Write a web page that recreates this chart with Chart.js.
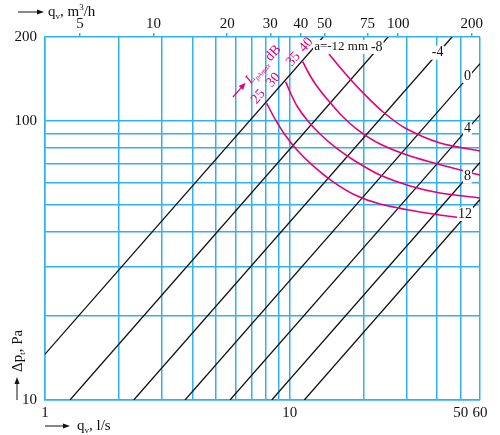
<!DOCTYPE html>
<html><head><meta charset="utf-8">
<script src="https://cdn.jsdelivr.net/npm/chart.js@4.4.1/dist/chart.umd.min.js"></script>
<style>html,body{margin:0;padding:0;background:#fff}canvas{display:block}</style>
</head><body>
<canvas id="c" width="500" height="435"></canvas>
<script>
// ---- axes / grid (q in l/s, Δp in Pa) ----
const xGridValues = [1,2,3,4,5,6,7,8,9,10,20,30,40,50,60];
const xTickLabels = [1,10,50,60];
const yGridValues = [10,20,30,40,50,60,70,80,90,100,200];
const yTickLabels = [10,100,200];
const topTickLabels = [5,10,20,30,40,50,75,100,200]; // m3/h
const M3H_PER_LS = 3.6;

// ---- black lines: damper setting a (mm) ----
const aValues = ['a=-12 mm','-8','-4','0','4','8','12'];
const lineStartQ = [1, 1.265, 2.305, 3.736, 5.705, 8.45, 11.48];
const lineStartP = [14.6, 10, 10, 10, 10, 10, 10];
const lineEndQ   = [13.7, 25.25, 46.1, 60, 60, 60, 60];
const lineEndP   = [200, 200, 200, 160.6, 105.2, 71.0, 52.3];
const aLabelQ = [16.23, 22.71, 40.24, 53.3, 53.3, 53.3, 52.1];
const aLabelP = [184.1, 184.1, 175.7, 145.0, 94.2, 63.2, 46.4];

// ---- magenta curves: sound level L (dB) ----
const dbLevels = ['25','30','35','40'];
const db25Q = [8.06, 8.71, 9.58, 10.72, 12.35, 14.91, 18.51, 23.42, 34.13, 50.68];
const db25P = [115.7, 101.7, 89.1, 78.7, 69.6, 60.9, 54.3, 50.4, 47.2, 44.9];
const db30Q = [9.64, 10.04, 10.72, 11.78, 13.31, 15.48, 18.51, 23.42, 31.06, 41.19, 60];
const db30P = [138.3, 127.0, 113.2, 100.8, 89.8, 80.1, 71.9, 64.0, 58.5, 55.2, 53.0];
const db35Q = [11.31, 11.89, 12.82, 14.22, 16.23, 19.04, 23.42, 31.06, 43.18, 60];
const db35P = [163.1, 149.8, 134.6, 119.9, 105.1, 92.8, 82.7, 74.9, 69.0, 64.0];
const db40Q = [14.49, 15.77, 17.66, 20.34, 24.09, 29.64, 41.19, 60];
const db40P = [173.8, 158.7, 141.4, 124.0, 107.7, 94.4, 83.4, 78.1];
const dbLabelQ = [7.45, 8.58, 10.35, 11.67];
const dbLabelP = [122.2, 140.3, 166.4, 187.3];
const levelTitleQ = 5.87, levelTitleP = 121.9;

const BLUE = '#33b2e8';
const MAGENTA = '#e3007b';
const SERIF = "'Liberation Serif','DejaVu Serif',serif";

const datasets = [];
const dbQ = [db25Q, db30Q, db35Q, db40Q];
const dbP = [db25P, db30P, db35P, db40P];
dbLevels.forEach((lv, i) => {
  datasets.push({
    label: 'L ' + lv + ' dB',
    data: dbQ[i].map((q, j) => ({x: q, y: dbP[i][j]})),
    borderColor: MAGENTA, borderWidth: 1.6, pointRadius: 0,
    tension: 0.3, fill: false
  });
});
aValues.forEach((a, i) => {
  datasets.push({
    label: a,
    data: [{x: lineStartQ[i], y: lineStartP[i]}, {x: lineEndQ[i], y: lineEndP[i]}],
    borderColor: '#111', borderWidth: 1.3, pointRadius: 0, tension: 0, fill: false
  });
});

function setTicks(values) {
  return function (scale) { scale.ticks = values.map(v => ({value: v})); };
}

const labelPlugin = {
  id: 'labels',
  afterDatasetsDraw(chart) {
    const ctx = chart.ctx, xs = chart.scales.x, ys = chart.scales.y;
    const ang = Math.atan2(ys.getPixelForValue(100) - ys.getPixelForValue(10),
                           xs.getPixelForValue(10) - xs.getPixelForValue(1));
    ctx.save();
    ctx.textAlign = 'center'; ctx.textBaseline = 'middle';
    aValues.forEach((t, i) => {
      ctx.font = (i === 0 ? '13px ' : '14px ') + SERIF;
      const px = xs.getPixelForValue(aLabelQ[i]), py = ys.getPixelForValue(aLabelP[i]);
      const w = ctx.measureText(t).width;
      ctx.fillStyle = '#fff';
      ctx.fillRect(px - w / 2 - 1, py - 7, w + 2, 14);
      ctx.fillStyle = '#111';
      ctx.fillText(t, px, py);
    });
    ctx.fillStyle = MAGENTA;
    ctx.font = '14px ' + SERIF;
    dbLevels.forEach((t, i) => {
      const px = xs.getPixelForValue(dbLabelQ[i]), py = ys.getPixelForValue(dbLabelP[i]);
      ctx.save(); ctx.translate(px, py); ctx.rotate(ang);
      ctx.fillText(t, 0, 0);
      ctx.restore();
    });
    const tx = xs.getPixelForValue(levelTitleQ), ty = ys.getPixelForValue(levelTitleP);
    ctx.save(); ctx.translate(tx, ty); ctx.rotate(ang);
    ctx.strokeStyle = MAGENTA; ctx.lineWidth = 1.2;
    ctx.beginPath(); ctx.moveTo(0, 0); ctx.lineTo(14, 0); ctx.stroke();
    ctx.beginPath(); ctx.moveTo(19, 0); ctx.lineTo(12, -3); ctx.lineTo(12, 3); ctx.closePath(); ctx.fill();
    ctx.textAlign = 'left'; ctx.textBaseline = 'alphabetic';
    ctx.font = 'italic 14px ' + SERIF;
    ctx.fillText('L', 21, 5);
    let xo = 21 + ctx.measureText('L').width;
    ctx.font = 'italic 7px ' + SERIF;
    ctx.fillText('pAmax', xo, 8);
    xo += ctx.measureText('pAmax').width + 3;
    ctx.font = '14px ' + SERIF;
    ctx.fillText('dB', xo, 5);
    ctx.restore();
    ctx.restore();
  }
};

function arrow(ctx, x1, y1, x2, y2) {
  const a = Math.atan2(y2 - y1, x2 - x1);
  ctx.beginPath(); ctx.moveTo(x1, y1); ctx.lineTo(x2 - 5 * Math.cos(a), y2 - 5 * Math.sin(a)); ctx.stroke();
  ctx.beginPath(); ctx.moveTo(x2, y2);
  ctx.lineTo(x2 - 7 * Math.cos(a) + 2.5 * Math.sin(a), y2 - 7 * Math.sin(a) - 2.5 * Math.cos(a));
  ctx.lineTo(x2 - 7 * Math.cos(a) - 2.5 * Math.sin(a), y2 - 7 * Math.sin(a) + 2.5 * Math.cos(a));
  ctx.closePath(); ctx.fill();
}

function subText(ctx, x, y, parts) {
  parts.forEach(([t, s, dy]) => {
    ctx.font = s + 'px ' + SERIF;
    ctx.fillText(t, x, y + dy);
    x += ctx.measureText(t).width;
  });
}

const titlePlugin = {
  id: 'titles',
  afterDraw(chart) {
    const ctx = chart.ctx;
    ctx.save();
    ctx.fillStyle = '#111'; ctx.strokeStyle = '#111'; ctx.lineWidth = 1;
    ctx.textAlign = 'left'; ctx.textBaseline = 'alphabetic';
    arrow(ctx, 18, 12, 44, 12);
    subText(ctx, 48, 16, [['q', 15, 0], ['v', 9, 3], [', m', 15, 0], ['3', 9, -6], ['/h', 15, 0]]);
    arrow(ctx, 45, 426, 70, 426);
    subText(ctx, 77, 430, [['q', 15, 0], ['v', 9, 3], [', l/s', 15, 0]]);
    arrow(ctx, 17, 400, 17, 377);
    ctx.translate(22, 372); ctx.rotate(-Math.PI / 2);
    subText(ctx, 0, 0, [['\u0394p', 15, 0], ['t', 9, 3], [', Pa', 15, 0]]);
    ctx.restore();
  }
};

new Chart(document.getElementById('c'), {
  type: 'line',
  data: {datasets},
  plugins: [labelPlugin, titlePlugin],
  options: {
    responsive: false, animation: false, devicePixelRatio: 1,
    layout: {padding: {left: 0, right: 20, top: 0, bottom: 0}},
    plugins: {legend: {display: false}, tooltip: {enabled: false}},
    scales: {
      x: {
        type: 'logarithmic', position: 'bottom', min: 1, max: 60,
        afterBuildTicks: setTicks(xGridValues),
        afterFit: s => { s.height = 35; },
        grid: {color: BLUE, lineWidth: 1.5, drawTicks: false},
        border: {color: BLUE, width: 1.5},
        ticks: {autoSkip: false, maxRotation: 0, minRotation: 0, padding: 4, color: '#111',
          font: {family: SERIF, size: 15},
          callback: v => xTickLabels.includes(v) ? String(v) : ''}
      },
      x2: {
        type: 'logarithmic', position: 'top', min: 1, max: 60,
        afterBuildTicks: setTicks(topTickLabels.map(v => v / M3H_PER_LS)),
        afterFit: s => { s.height = 37; },
        grid: {color: BLUE, lineWidth: 1.5, drawOnChartArea: false, drawTicks: true, tickLength: 4},
        border: {display: false},
        ticks: {autoSkip: false, maxRotation: 0, minRotation: 0, padding: 0, color: '#111',
          font: {family: SERIF, size: 15},
          callback: v => String(Math.round(v * M3H_PER_LS))}
      },
      y: {
        type: 'logarithmic', position: 'left', min: 10, max: 200,
        afterBuildTicks: setTicks(yGridValues),
        afterFit: s => { s.width = 45; },
        grid: {color: BLUE, lineWidth: 1.5, drawTicks: false},
        border: {color: BLUE, width: 1.5},
        ticks: {autoSkip: false, padding: 8, color: '#111',
          font: {family: SERIF, size: 15},
          callback: v => yTickLabels.includes(v) ? String(v) : ''}
      }
    }
  }
});
</script>
</body></html>
